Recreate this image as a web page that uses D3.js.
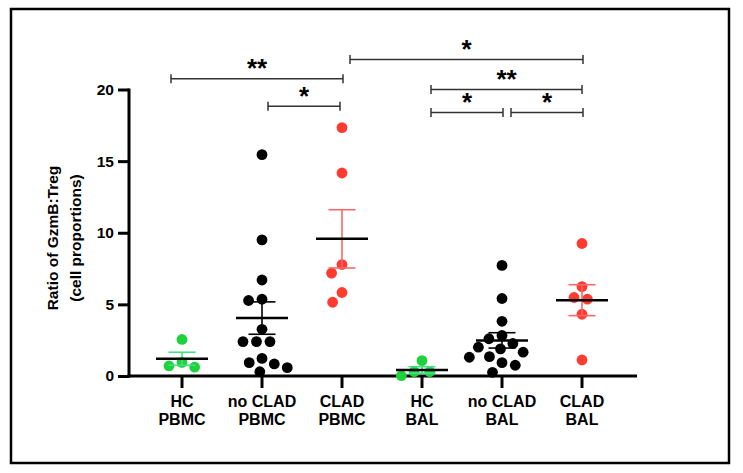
<!DOCTYPE html>
<html>
<head>
<meta charset="utf-8">
<script src="https://cdn.jsdelivr.net/npm/d3@7"></script>
<style>
  html, body { margin: 0; padding: 0; background: #fff; }
  svg { display: block; }
  text { font-family: "Liberation Sans", Arial, Helvetica, sans-serif; font-weight: bold; }
</style>
</head>
<body>
<svg id="chart" width="743" height="473"></svg>
<script>
// ---------- data ----------
const categories = ["HC|PBMC", "no CLAD|PBMC", "CLAD|PBMC", "HC|BAL", "no CLAD|BAL", "CLAD|BAL"];
const hcPBMC     = [2.55, 0.95, 0.62, 0.70];
const noCladPBMC = [15.45, 9.5, 6.7, 5.27, 5.36, 3.26, 2.4, 2.4, 2.4, 1.23, 0.93, 0.58, 0.84, 0.30];
const cladPBMC   = [17.34, 14.17, 7.78, 7.18, 5.83, 5.15];
const hcBAL      = [0.02, 1.07, 0.30, 0.30];
const noCladBAL  = [7.72, 5.41, 3.82, 2.83, 2.60, 2.27, 1.89, 2.01, 1.66, 1.35, 1.31, 0.93, 0.75, 0.26];
const cladBAL    = [9.25, 6.24, 5.36, 5.48, 4.31, 1.12];
const groupValues = [hcPBMC, noCladPBMC, cladPBMC, hcBAL, noCladBAL, cladBAL];
const groupKind   = ["hc", "no", "clad", "hc", "no", "clad"];
const yTicks = [0, 5, 10, 15, 20];
const yLabelLines = ["Ratio of GzmB:Treg", "(cell proportions)"];
// significance comparisons: [from group, to group, label, bracket height (data units)]
const comparisons = [
  [0, 2, "**", 20.75],
  [1, 2, "*", 18.83],
  [2, 5, "*", 22.1],
  [3, 5, "**", 20.0],
  [3, 4, "*", 18.4],
  [4, 5, "*", 18.4]
];

// ---------- layout / style ----------
const bracketInsets = [[-11, 1], [6, -2], [8, 1], [9, 0], [9, 1], [9, 1]];
const pointColor = { hc: "#1ed23c", no: "#000000", clad: "#ff3b30" };
const errColor   = { hc: "#45df85", no: "#000000", clad: "#f26a6a" };

const svg = d3.select("#chart");

svg.append("rect")
  .attr("x", 11).attr("y", 9).attr("width", 718).attr("height", 454)
  .attr("fill", "none").attr("stroke", "#000").attr("stroke-width", 2.5);

const x = d3.scaleBand().domain(categories).range([142, 622]);
const xc = c => x(c) + x.bandwidth() / 2;
const y = d3.scaleLinear().domain([0, 20]).range([376, 89.5]);

// y axis
const yAxis = svg.append("g").attr("transform", "translate(129,0)")
  .call(d3.axisLeft(y).tickValues(yTicks).tickSize(11).tickPadding(4));
yAxis.select(".domain").remove();
yAxis.selectAll(".tick line").attr("stroke", "#000").attr("stroke-width", 3);
yAxis.selectAll(".tick text").attr("font-size", 15.5).attr("fill", "#000")
  .attr("font-family", "'Liberation Sans', Arial, sans-serif").attr("font-weight", "bold");
svg.append("line").attr("x1", 129).attr("x2", 129).attr("y1", y(20) - 1).attr("y2", y(0) + 1.5)
  .attr("stroke", "#000").attr("stroke-width", 3);

// x axis
const xAxis = svg.append("g").attr("transform", `translate(0,${y(0)})`)
  .call(d3.axisBottom(x).tickSize(12).tickFormat(""));
xAxis.select(".domain").remove();
xAxis.selectAll(".tick line").attr("stroke", "#000").attr("stroke-width", 3);
svg.append("line").attr("x1", 127.5).attr("x2", 637).attr("y1", y(0)).attr("y2", y(0))
  .attr("stroke", "#000").attr("stroke-width", 3);

// x labels
categories.forEach(c => {
  const parts = c.split("|");
  const t = svg.append("text").attr("text-anchor", "middle").attr("font-size", 16).attr("fill", "#000");
  t.append("tspan").attr("x", xc(c)).attr("y", 406.5).text(parts[0]);
  t.append("tspan").attr("x", xc(c)).attr("y", 425).text(parts[1]);
});

// y label
yLabelLines.forEach((line, i) => {
  svg.append("text")
    .attr("transform", `translate(${58 + i * 22.5},238) rotate(-90)`)
    .attr("text-anchor", "middle").attr("font-size", 15.5).attr("fill", "#000")
    .text(line);
});

// beeswarm layout
function swarm(vals, D) {
  const placed = [];
  const out = new Array(vals.length);
  const order = vals.map((v, i) => i).sort((a, b) => vals[b] - vals[a]);
  order.forEach(i => {
    const py = y(vals[i]);
    const cands = [0];
    placed.forEach(p => {
      const dy = py - p.y;
      if (Math.abs(dy) < D) {
        const dx = Math.sqrt(D * D - dy * dy);
        cands.push(p.x + dx, p.x - dx);
      }
    });
    const valid = cands.filter(cx => placed.every(p => (cx - p.x) ** 2 + (py - p.y) ** 2 >= D * D - 0.01));
    valid.sort((a, b) => Math.abs(a) - Math.abs(b) || a - b);
    const px = valid[0];
    placed.push({ x: px, y: py });
    out[i] = { x: px, y: py };
  });
  return out;
}

const marks = svg.append("g");
groupValues.forEach((vals, gi) => {
  const cat = categories[gi];
  const cx = xc(cat);
  const kind = groupKind[gi];
  const pos = swarm(vals, 13.5);
  marks.append("g").selectAll("circle").data(pos).join("circle")
    .attr("cx", d => cx + d.x).attr("cy", d => d.y).attr("r", 5.4)
    .attr("fill", pointColor[kind]);

  const mean = d3.mean(vals);
  const sem = d3.deviation(vals) / Math.sqrt(vals.length);
  const g = marks.append("g");
  g.append("line").attr("x1", cx).attr("x2", cx).attr("y1", y(mean + sem)).attr("y2", y(mean - sem))
    .attr("stroke", errColor[kind]).attr("stroke-width", 1.6);
  [mean + sem, mean - sem].forEach(v => {
    g.append("line").attr("x1", cx - 13.5).attr("x2", cx + 13.5).attr("y1", y(v)).attr("y2", y(v))
      .attr("stroke", errColor[kind]).attr("stroke-width", 1.6);
  });
  g.append("line").attr("x1", cx - 26).attr("x2", cx + 26).attr("y1", y(mean)).attr("y2", y(mean))
    .attr("stroke", "#000").attr("stroke-width", 2.5);
});

// significance brackets
comparisons.forEach((cmp, i) => {
  const [a, b, label, h] = cmp;
  const x1 = xc(categories[a]) + bracketInsets[i][0];
  const x2 = xc(categories[b]) + bracketInsets[i][1];
  const by = y(h);
  const g = svg.append("g").attr("stroke", "#333").attr("stroke-width", 1.5);
  g.append("line").attr("x1", x1).attr("x2", x2).attr("y1", by).attr("y2", by);
  g.append("line").attr("x1", x1).attr("x2", x1).attr("y1", by - 4.5).attr("y2", by + 4.5);
  g.append("line").attr("x1", x2).attr("x2", x2).attr("y1", by - 4.5).attr("y2", by + 4.5);
  svg.append("text").attr("x", (x1 + x2) / 2).attr("y", by)
    .attr("dy", "-0.05em")
    .attr("text-anchor", "middle").attr("font-size", 26).attr("fill", "#000")
    .text(label);
});
</script>
</body>
</html>
